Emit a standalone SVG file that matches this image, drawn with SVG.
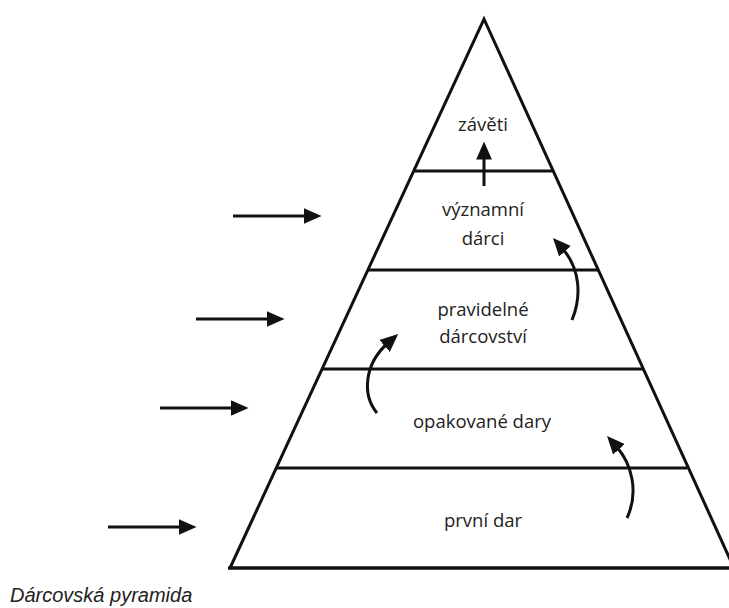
<svg xmlns="http://www.w3.org/2000/svg" width="729" height="608" viewBox="0 0 729 608">
<style>
.ln{stroke:#111;stroke-width:3;fill:none}
.ar{stroke:#111;stroke-width:3;fill:none;marker-end:url(#ah)}
.lb{font-family:"Open Sans","Noto Sans","DejaVu Sans",sans-serif;font-size:18.5px;fill:#222;text-anchor:middle}
.cap{font-family:"Liberation Sans",Arial,sans-serif;font-size:20px;font-style:italic;fill:#222}
</style>
<defs>
<marker id="ah" markerUnits="userSpaceOnUse" markerWidth="18" markerHeight="16" refX="4" refY="7" orient="auto" viewBox="0 0 16 14">
<path d="M0,0 L16,7 L0,14 Z" fill="#111"/>
</marker>
</defs>
<rect width="729" height="608" fill="#fff"/>
<g id="pyramid">
<path class="ln" d="M230,568 L484,19 L734,568 Z"/>
</g>
<g id="tier-zaveti">
<line class="ln" x1="414" y1="171" x2="553" y2="171"/>
<text class="lb" x="483" y="131">závěti</text>
</g>
<g id="tier-vyznamni">
<line class="ln" x1="367" y1="270" x2="598" y2="270"/>
<text class="lb" x="483" y="216">významní</text>
<text class="lb" x="483" y="245">dárci</text>
</g>
<g id="tier-pravidelne">
<line class="ln" x1="322" y1="369" x2="643" y2="369"/>
<text class="lb" x="483" y="316">pravidelné</text>
<text class="lb" x="483" y="343">dárcovství</text>
</g>
<g id="tier-opakovane">
<line class="ln" x1="277" y1="468" x2="687" y2="468"/>
<text class="lb" x="482" y="428">opakované dary</text>
</g>
<g id="tier-prvni">
<line class="ln" x1="228" y1="568" x2="729" y2="568"/>
<text class="lb" x="483" y="527">první dar</text>
</g>
<g id="connectors">
<line class="ar" x1="484" y1="186" x2="484" y2="155"/>
<path class="ar" d="M572,320 C582,296 580,268 562,248"/>
<path class="ar" d="M377,413 C362,395 364,364 388,343"/>
<path class="ar" d="M627,518 C639,492 632,464 616,446"/>
<line class="ar" x1="233" y1="216" x2="308" y2="216"/>
<line class="ar" x1="196" y1="319" x2="271" y2="319"/>
<line class="ar" x1="160" y1="408" x2="235" y2="408"/>
<line class="ar" x1="108" y1="527" x2="183" y2="527"/>
</g>
<g id="caption">
<text class="cap" x="10" y="602">Dárcovská pyramida</text>
</g>
</svg>
